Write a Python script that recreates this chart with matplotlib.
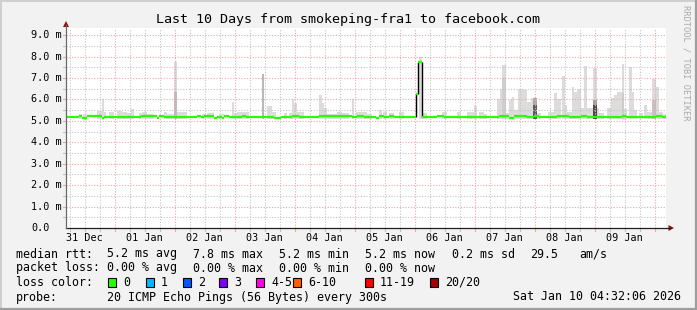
import matplotlib
matplotlib.use('Agg')
import matplotlib.pyplot as plt
from matplotlib.patches import Rectangle, Polygon
from matplotlib.lines import Line2D
import numpy as np

plt.rcParams['font.family'] = ['DejaVu Sans Mono']

W, H = 697, 310

# time axis: hours since Wed Dec 31 04:32:06 (graph start), 10 days shown
t_span = 240.0
first_midnight = 19.465
day_labels = ['31 Dec', '01 Jan', '02 Jan', '03 Jan', '04 Jan',
              '05 Jan', '06 Jan', '07 Jan', '08 Jan', '09 Jan']
y_max = 9.333
y_labels = ['0.0', '1.0 m', '2.0 m', '3.0 m', '4.0 m', '5.0 m',
            '6.0 m', '7.0 m', '8.0 m', '9.0 m']

# median rtt (ms), step changes
median_t = [0, 5.2, 6.5, 8.5, 14.5, 15.2, 16.5, 18.5, 29.9, 36.5, 37.2, 39.2,
            41.2, 43.2, 52.5, 53.9, 55.2, 59.2, 60.5, 62.5, 63.2, 65.2, 70.5,
            71.9, 83.2, 85.9, 90.5, 93.2, 95.2, 101.2, 114.5, 116.5, 119.2,
            122.5, 123.9, 125.2, 127.2, 129.2, 131.2, 140.1, 140.9, 142.3,
            148.5, 151.2, 157.9, 173.2, 177.2, 179.2, 184.5, 187.2, 189.2,
            196.5, 201.2, 205.9, 208.5, 211.2, 216.5, 222.5, 223.9, 226.5,
            235.9, 238.5]
median_v = [5.18, 5.24, 5.14, 5.22, 5.14, 5.2, 5.17, 5.2, 5.22, 5.15, 5.24,
            5.2, 5.16, 5.2, 5.24, 5.16, 5.22, 5.14, 5.2, 5.15, 5.22, 5.18,
            5.21, 5.18, 5.14, 5.19, 5.23, 5.2, 5.16, 5.23, 5.16, 5.22, 5.16,
            5.2, 5.15, 5.22, 5.19, 5.23, 5.2, 6.26, 7.76, 5.16, 5.22, 5.18,
            5.2, 5.23, 5.15, 5.23, 5.16, 5.22, 5.16, 5.23, 5.16, 5.23, 5.18,
            5.16, 5.2, 5.23, 5.16, 5.2, 5.22, 5.16]

# smoke (light grey), start hour / end hour / top in ms
smoke_t0 = [0, 5.2, 6.8, 12.5, 14.3, 15.2, 17.2, 20.5, 22.5, 23.2, 24.5, 25.9,
            29.2, 30.5, 32.5, 39.2, 40.5, 43.2, 44.3, 54.5, 56.5, 61.2, 66.3,
            67.1, 68.5, 78.3, 80.3, 82.5, 87.2, 89.2, 90.5, 91.3, 92.5, 101.2,
            102.3, 103.2, 104.5, 108.5, 110.5, 114.5, 115.9, 116.5, 120.5,
            125.2, 126.9, 129.2, 133.2, 141.2, 142.5, 150.5, 156.5, 160.5,
            163.2, 165.2, 167.2, 172.5, 173.5, 174.5, 176.1, 177.2, 178.3,
            179.2, 180.9, 183.2, 184.5, 185.9, 188.5, 192.9, 195.2, 196.5,
            198.5, 199.5, 200.5, 202.3, 203.2, 204.5, 205.9, 207.2, 208.5,
            210.9, 212.3, 213.2, 216.5, 217.9, 219.2, 220.5, 222.5, 223.3,
            225.2, 226.5, 227.2, 229.2, 231.2, 232.5, 234.5, 235.9, 237.2,
            238.9]
smoke_t1 = [0.5, 6.5, 8.5, 14.3, 15.2, 16.0, 19.2, 22.5, 23.2, 24.5, 25.9, 27.2,
            30.5, 32.5, 35.2, 40.5, 43.2, 44.3, 48.5, 55.9, 59.2, 63.2, 67.1,
            68.5, 73.2, 79.2, 82.5, 83.9, 88.5, 90.5, 91.3, 92.5, 95.2, 102.3,
            103.2, 104.5, 108.5, 110.5, 113.2, 115.3, 116.5, 120.5, 122.5,
            126.5, 128.3, 131.2, 135.2, 142.5, 144.5, 152.5, 158.1, 163.2,
            164.3, 167.2, 168.5, 173.5, 174.5, 176.1, 177.2, 178.3, 179.2,
            180.9, 183.2, 184.5, 185.9, 188.5, 189.9, 195.2, 196.5, 197.9,
            199.5, 200.5, 202.3, 203.2, 204.5, 205.9, 207.2, 208.5, 210.9,
            212.3, 213.2, 215.2, 217.9, 219.2, 220.5, 222.3, 223.3, 224.5,
            226.5, 227.2, 228.5, 230.9, 232.5, 234.2, 235.9, 237.2, 238.9,
            240.0]
smoke_top = [5.35, 5.32, 5.32, 5.47, 6.0, 5.43, 5.43, 5.47, 5.43, 5.4, 5.35,
             5.55, 5.35, 5.43, 5.32, 5.4, 5.32, 7.75, 5.4, 5.32, 5.35, 5.32,
             5.9, 5.35, 5.43, 7.18, 5.7, 5.4, 5.35, 5.35, 6.0, 5.85, 5.43, 6.2,
             5.85, 5.58, 5.32, 5.43, 5.35, 6.0, 5.43, 5.43, 5.32, 5.5, 5.43,
             5.35, 5.4, 7.97, 5.35, 5.4, 5.43, 5.4, 5.7, 5.4, 5.32, 6.0, 6.5,
             7.6, 5.35, 5.97, 6.13, 5.5, 6.47, 6.42, 5.9, 6.05, 5.35, 5.4,
             6.32, 6.0, 7.09, 5.74, 5.43, 6.56, 6.36, 6.47, 5.58, 7.56, 5.58,
             7.45, 5.58, 5.35, 5.58, 6.05, 6.2, 6.36, 7.65, 5.55, 7.5, 6.36,
             5.5, 5.35, 5.74, 5.43, 6.94, 6.6, 5.4, 5.32]
smoke_base = 5.1

# denser smoke layers (drawn over the light smoke)
shade_t0 = [43.2, 78.3, 174.5, 186.9, 186.9, 210.9, 210.9, 222.5, 234.5]
shade_t1 = [44.3, 79.2, 176.1, 188.5, 188.5, 212.3, 212.3, 223.3, 235.9]
shade_top = [6.36, 7.18, 7.0, 6.05, 5.74, 5.97, 5.74, 6.3, 5.97]
shade_col = ['#BDBDBD', '#B8B8B8', '#CFCFCF', '#A8A8A8', '#5A5A5A',
             '#A0A0A0', '#4A4A4A', '#CCCCCC', '#C2C2C2']

loss_labels = ['0', '1', '2', '3', '4-5', '6-10', '11-19', '20/20']
loss_colors = ['#26ff00', '#00b8ff', '#0059ff', '#7e00ff', '#ff00ea',
               '#ff5e00', '#ff0000', '#a10000']


def fx(x):
    return x / W


def fy(y):
    return 1 - y / H


fig = plt.figure(figsize=(W / 100, H / 100), dpi=100, facecolor='#F2F2F2')
ax = fig.add_axes([fx(66), fy(228), 600 / W, 200 / H])
ax.set_facecolor('white')
ax.set_xlim(0, t_span)
ax.set_ylim(0, y_max)
for s in ax.spines.values():
    s.set_visible(False)
ax.set_xticks([])
ax.set_yticks([])

# smoke
t0 = np.array(smoke_t0)
t1 = np.array(smoke_t1)
ax.bar(t0, np.array(smoke_top) - smoke_base, width=t1 - t0, bottom=smoke_base,
       align='edge', color='#DCDCDC', linewidth=0, zorder=1)
s0 = np.array(shade_t0)
s1 = np.array(shade_t1)
ax.bar(s0, np.array(shade_top) - smoke_base, width=s1 - s0, bottom=smoke_base,
       align='edge', color=shade_col, linewidth=0, zorder=1.5)

# grid
minor_col = '#C4C4C4'
major_col = '#F3A3A3'
dot = (0, (1.0, 1.5))
for v in np.arange(0.5, y_max, 0.5):
    col = major_col if abs(v - round(v)) < 1e-6 else minor_col
    ax.axhline(v, color=col, lw=0.8, linestyle=dot, zorder=2)
six_h = np.arange(first_midnight - 18, t_span, 6.0)
for i, t in enumerate(six_h):
    if t <= 0:
        continue
    is_major = abs(((t - first_midnight) / 24) - round((t - first_midnight) / 24)) < 1e-6
    col = major_col if is_major else minor_col
    ax.axvline(t, color=col, lw=0.8, linestyle=dot, zorder=2)
    ax.plot([t, t], [0, -0.15], color=col, lw=0.8, clip_on=False, zorder=2)
for v in np.arange(0.5, y_max, 0.5):
    col = major_col if abs(v - round(v)) < 1e-6 else minor_col
    ax.plot([-1.2, 0], [v, v], color=col, lw=0.8, clip_on=False, zorder=2)

# median line: black risers for big jumps, green levels
mt = np.array(median_t + [t_span])
mv = np.array(median_v)
jumps = np.where(np.abs(np.diff(mv)) > 0.3)[0]
for j in jumps:
    ax.vlines(mt[j + 1], min(mv[j], mv[j + 1]), max(mv[j], mv[j + 1]),
              color='black', lw=1.0, zorder=3)
ax.hlines(mv, mt[:-1], mt[1:], color='#26ff00', lw=1.6, zorder=4)

# axes with arrows
fig.add_artist(Line2D([fx(66), fx(670)], [fy(228), fy(228)], color='#202020', lw=0.9))
fig.add_artist(Line2D([fx(66), fx(66)], [fy(228), fy(25)], color='#6A6A6A', lw=0.9))
fig.add_artist(Polygon([[fx(668.5), fy(225)], [fx(668.5), fy(231)], [fx(674), fy(228)]],
                       closed=True, color='#8B1010', lw=0))
fig.add_artist(Polygon([[fx(63), fy(27)], [fx(69), fy(27)], [fx(66), fy(21)]],
                       closed=True, color='#8B1010', lw=0))

# tick labels
tick_fs = 7.3
for i, lab in enumerate(y_labels):
    y = 228 - i * 200 / y_max
    fig.text(fx(31), fy(y), lab, ha='left', va='center', fontsize=tick_fs)
for i, lab in enumerate(day_labels):
    t = first_midnight - 12 + 24 * i
    fig.text(fx(66 + t * 600 / t_span), fy(238), lab, ha='center', va='center',
             fontsize=tick_fs)

# title and watermark
fig.text(fx(348.5), fy(19), 'Last 10 Days from smokeping-fra1 to facebook.com',
         ha='center', va='center', fontsize=9.6)
fig.text(fx(686), fy(5), 'RRDTOOL / TOBI OETIKER', rotation=270, ha='center',
         va='top', fontsize=6.2, color='#AAAAAA')

# legend
leg_fs = 8.4
row_y = [254, 268, 282, 297]
fig.text(fx(16), fy(row_y[0]), 'median rtt:', ha='left', va='center', fontsize=leg_fs)
for x, s in zip([107, 193, 279, 365, 451.5, 530, 579],
                ['5.2 ms avg', '7.8 ms max', '5.2 ms min', '5.2 ms now',
                 '0.2 ms sd', '29.5', 'am/s']):
    fig.text(fx(x), fy(row_y[0]), s, ha='left', va='center', fontsize=leg_fs)
fig.text(fx(16), fy(row_y[1]), 'packet loss:', ha='left', va='center', fontsize=leg_fs)
for x, s in zip([107, 193, 279, 365],
                ['0.00 % avg', '0.00 % max', '0.00 % min', '0.00 % now']):
    fig.text(fx(x), fy(row_y[1]), s, ha='left', va='center', fontsize=leg_fs)
fig.text(fx(16), fy(row_y[2]), 'loss color:', ha='left', va='center', fontsize=leg_fs)
box_x = [108.3, 145.7, 182.7, 219.3, 256, 293.3, 365, 430]
for bx, lab, col in zip(box_x, loss_labels, loss_colors):
    fig.add_artist(Rectangle((fx(bx), fy(286.5)), 8 / W, 9 / H, facecolor=col,
                             edgecolor='black', lw=0.8))
    fig.text(fx(bx + 15), fy(row_y[2]), lab, ha='left', va='center', fontsize=leg_fs)
fig.text(fx(16), fy(row_y[3]), 'probe:', ha='left', va='center', fontsize=leg_fs)
fig.text(fx(107), fy(row_y[3]), '20 ICMP Echo Pings (56 Bytes) every 300s',
         ha='left', va='center', fontsize=leg_fs)
fig.text(fx(513), fy(row_y[3]), 'Sat Jan 10 04:32:06 2026', ha='left',
         va='center', fontsize=leg_fs)

# 3D-ish frame
fig.add_artist(Line2D([0, 1], [fy(0.8), fy(0.8)], color='#CFCFCF', lw=1.4))
fig.add_artist(Line2D([fx(0.8), fx(0.8)], [0, 1], color='#CFCFCF', lw=1.4))
fig.add_artist(Line2D([0, 1], [fy(309), fy(309)], color='#9E9E9E', lw=1.6))
fig.add_artist(Line2D([fx(696), fx(696)], [0, 1], color='#9E9E9E', lw=1.6))

fig.savefig('out.png', dpi=100, facecolor=fig.get_facecolor())
